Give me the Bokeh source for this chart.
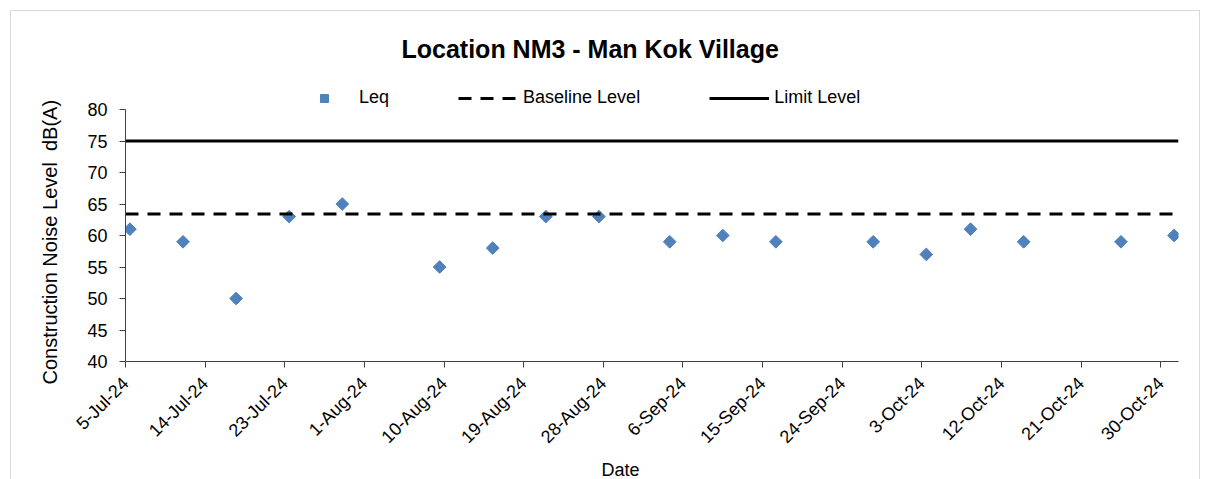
import pandas as pd
from math import pi
from bokeh.plotting import figure
from bokeh.models import (Range1d, FixedTicker, Legend, LegendItem, ColumnDataSource,
                          Title)
from bokeh.embed import file_html
from bokeh.resources import INLINE

# ---- data ----
dates = ["2024-07-05", "2024-07-11", "2024-07-17", "2024-07-23", "2024-07-29",
         "2024-08-09", "2024-08-15", "2024-08-21", "2024-08-27", "2024-09-04",
         "2024-09-10", "2024-09-16", "2024-09-27", "2024-10-03", "2024-10-08",
         "2024-10-14", "2024-10-25", "2024-10-31"]
leq = [61, 59, 50, 63, 65, 55, 58, 63, 63, 59, 60, 59, 59, 57, 61, 59, 59, 60]
baseline_level = 63.4
limit_level = 75
tick_dates = ["2024-07-05", "2024-07-14", "2024-07-23", "2024-08-01", "2024-08-10",
              "2024-08-19", "2024-08-28", "2024-09-06", "2024-09-15", "2024-09-24",
              "2024-10-03", "2024-10-12", "2024-10-21", "2024-10-30"]
tick_labels = ["5-Jul-24", "14-Jul-24", "23-Jul-24", "1-Aug-24", "10-Aug-24",
               "19-Aug-24", "28-Aug-24", "6-Sep-24", "15-Sep-24", "24-Sep-24",
               "3-Oct-24", "12-Oct-24", "21-Oct-24", "30-Oct-24"]
x_start = "2024-07-05"
x_end = "2024-11-01"
y_ticks = [40, 45, 50, 55, 60, 65, 70, 75, 80]


def ms(d):
    return pd.Timestamp(d).timestamp() * 1000.0


HALF_DAY = 12 * 3600 * 1000.0
FONT = "Liberation Sans"

xs = [ms(d) + HALF_DAY for d in dates]
tick_ms = [ms(d) for d in tick_dates]
x0, x1 = ms(x_start), ms(x_end)

# frame spans 80..360 px; 40..80 dB occupy the lower 252 px, room above for the legend
y_top = 80 + 28 * 40 / 252

p = figure(width=1190, height=469, output_backend="svg", toolbar_location=None,
           x_range=Range1d(x0, x1), y_range=Range1d(40, y_top),
           min_border_left=114, min_border_right=23, min_border_top=70,
           min_border_bottom=119)
p.styles = {"margin-left": "10px", "margin-top": "10px",
            "border-left": "1px solid #d9d9d9", "border-top": "1px solid #d9d9d9",
            "border-right": "1px solid #d9d9d9", "box-sizing": "border-box"}
p.outline_line_color = None
p.xgrid.visible = False
p.ygrid.visible = False

src = ColumnDataSource(dict(x=xs, y=leq))
r_leq = p.scatter("x", "y", source=src, marker="square", angle=pi / 4, size=9,
                  fill_color="#4F81BD", line_color="#4F81BD")
r_base = p.line([x0, x1 - HALF_DAY], [baseline_level, baseline_level], line_color="black",
                line_width=3, line_dash="13 9")
r_lim = p.line([x0, x1], [limit_level, limit_level], line_color="black", line_width=3)

# axes
xa = p.xaxis[0]
xa.ticker = FixedTicker(ticks=tick_ms)
xa.major_label_overrides = {t: l for t, l in zip(tick_ms, tick_labels)}
xa.major_label_orientation = pi / 4
xa.minor_tick_line_color = None
xa.major_tick_in = 0
xa.major_tick_out = 6
xa.major_label_standoff = 13
xa.major_label_text_font = FONT
xa.major_label_text_font_size = "18px"
xa.major_label_text_color = "black"
xa.axis_line_color = "#404040"
xa.major_tick_line_color = "#404040"

ya = p.yaxis[0]
ya.ticker = FixedTicker(ticks=y_ticks)
ya.bounds = (40, 80)
ya.minor_tick_line_color = None
ya.major_tick_in = 0
ya.major_tick_out = 6
ya.major_label_standoff = 12
ya.major_label_text_font = FONT
ya.major_label_text_font_size = "18px"
ya.major_label_text_color = "black"
ya.axis_line_color = "#404040"
ya.major_tick_line_color = "#404040"

# y axis title as a side title so it can be shifted along the axis
y_title = Title(text="Construction Noise Level\u00a0 dB(A)", align="left", offset=-23,
                text_font=FONT, text_font_size="20px", text_font_style="normal",
                text_color="black", standoff=48)
p.add_layout(y_title, "left")

# x axis title, offset like the reference
date_title = Title(text="Date", align="left", offset=476, text_font=FONT,
                   text_font_size="18px", text_font_style="normal", text_color="black",
                   standoff=0)
p.add_layout(date_title, "below")

# main title
p.title.text = "Location NM3 - Man Kok Village"
p.title.text_font = FONT
p.title.text_font_size = "25px"
p.title.text_font_style = "bold"
p.title.text_color = "black"
p.title.align = "left"
p.title.offset = 276
p.title.standoff = 37

# legend inside the upper strip of the frame (location = bottom-left corner)
legend = Legend(items=[LegendItem(label="Leq", renderers=[r_leq]),
                       LegendItem(label="Baseline Level", renderers=[r_base]),
                       LegendItem(label="Limit Level", renderers=[r_lim])],
                orientation="horizontal", location=(169, 253),
                glyph_width=60, glyph_height=20, label_standoff=5, spacing=69,
                padding=0, margin=0, label_text_color="black",
                label_text_font=FONT, label_text_font_size="18px",
                border_line_color=None, background_fill_alpha=0)
p.add_layout(legend, "center")

open("out.html", "w").write(file_html(p, INLINE))
